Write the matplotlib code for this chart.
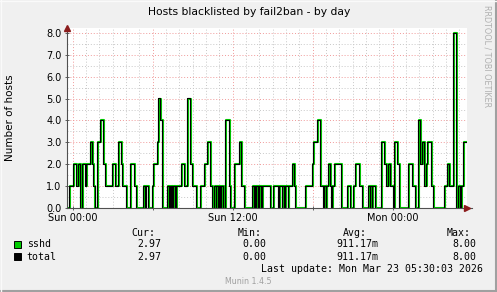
import numpy as np
import matplotlib
matplotlib.use("Agg")
import matplotlib.pyplot as plt
import matplotlib.transforms as mtransforms
from matplotlib.patches import Rectangle

# hours since Sun 00:00 where the value changes, and the value from there on
change_hours = [-0.45, -0.20, 0.10, 0.30, 0.45, 0.65, 0.75, 1.00, 1.10, 1.40,
                1.55, 1.60, 1.72, 1.90, 2.15, 2.35, 2.50, 3.05, 3.25, 3.45,
                3.70, 3.80, 4.05, 4.40, 4.65, 4.85, 5.35, 5.47, 5.53, 5.75,
                6.05, 6.10, 6.40, 6.50, 6.65, 6.75, 6.80, 7.15, 7.30, 7.35,
                7.40, 7.45, 7.55, 7.60, 7.75, 7.85, 8.20, 8.45, 8.65, 8.90,
                9.00, 9.30, 9.60, 9.90, 10.15, 10.35, 10.55, 10.65, 10.80, 10.85,
                11.00, 11.05, 11.15, 11.20, 11.33, 11.50, 11.80, 11.90, 12.15, 12.55,
                12.70, 12.95, 13.50, 13.70, 13.75, 13.80, 13.85, 14.00, 14.05, 14.20,
                14.25, 14.90, 15.10, 15.50, 15.55, 15.75, 15.80, 15.95, 16.00, 16.20,
                16.25, 16.50, 16.65, 16.75, 17.50, 18.00, 18.10, 18.40, 18.65, 18.85,
                18.90, 19.05, 19.10, 19.25, 19.40, 19.45, 19.50, 19.65, 20.20, 20.65,
                20.90, 21.10, 21.25, 21.55, 21.80, 22.20, 22.35, 22.40, 22.50, 22.55,
                22.75, 23.20, 23.45, 23.55, 23.70, 23.90, 24.10, 24.15, 24.40, 24.55,
                25.25, 25.55, 25.75, 25.95, 26.15, 26.25, 26.40, 26.60, 26.65, 26.95,
                27.10, 27.90, 28.15, 28.30, 28.60, 28.80, 28.95, 29.15, 29.20, 29.35]
sshd = [0, 1, 2, 1, 2, 0, 2, 1, 2, 3,
        2, 1, 0, 3, 4, 2, 1, 2, 1, 3,
        2, 1, 0, 2, 1, 0, 1, 0, 1, 0,
        1, 2, 3, 5, 4, 1, 0, 1, 0, 1,
        0, 1, 0, 1, 0, 1, 2, 1, 5, 2,
        1, 0, 1, 2, 3, 1, 0, 1, 0, 1,
        0, 1, 0, 1, 0, 4, 1, 0, 2, 3,
        1, 0, 1, 0, 1, 0, 1, 0, 1, 0,
        1, 0, 1, 0, 1, 0, 1, 0, 1, 0,
        1, 2, 1, 0, 1, 2, 3, 4, 1, 0,
        1, 0, 1, 2, 1, 0, 1, 2, 0, 1,
        0, 1, 2, 1, 0, 1, 0, 1, 0, 1,
        0, 3, 2, 1, 2, 1, 0, 3, 2, 0,
        2, 1, 0, 4, 2, 3, 1, 2, 3, 1,
        0, 1, 2, 1, 8, 0, 1, 0, 1, 3]
total = list(sshd)
end_hour = 29.55

tick_hours = [0, 12, 24]
tick_labels = ["Sun 00:00", "Sun 12:00", "Mon 00:00"]

legend_rows = [("sshd", "#00cc00", "2.97", "0.00", "911.17m", "8.00"),
               ("total", "#000000", "2.97", "0.00", "911.17m", "8.00")]
last_update = "Last update: Mon Mar 23 05:30:03 2026"

W, H = 497, 292
fig = plt.figure(figsize=(W / 100, H / 100), dpi=100, facecolor="#f0f0f0")


def fx(px):
    return px / W


def fy(py):
    return 1 - py / H


ax = fig.add_axes([fx(66.5), fy(208), 400 / W, 180 / H])
ax.set_facecolor("white")

xs = np.append(change_hours, end_hour)
ys_s = np.append(sshd, sshd[-1])
ys_t = np.append(total, total[-1])
ax.step(xs, ys_s, where="post", color="#00cc00", lw=1.5, zorder=3)
shift = mtransforms.offset_copy(ax.transData, fig=fig, x=-0.7, y=0.3, units="dots")
ax.step(xs, ys_t, where="post", color="black", lw=0.8, zorder=4, transform=shift)

ax.set_xlim(-0.45, 29.55)
ax.set_ylim(0, 180 / 21.875)

# grid: red dotted at major positions, grey dotted at minor
grid_red = "#f09a9a"
grid_grey = "#c8c8c8"
for h in range(0, 30):
    c = grid_red if h % 6 == 0 else grid_grey
    ax.axvline(h, color=c, lw=0.7, ls=(0, (1, 2)), zorder=1)
for v in np.arange(0.5, 8.01, 0.5):
    c = grid_red if v % 1 == 0 else grid_grey
    ax.axhline(v, color=c, lw=0.7, ls=(0, (1, 2)), zorder=1)

ax.set_yticks(np.arange(0, 8.01, 1))
ax.set_yticklabels([f"{v:.1f}" for v in np.arange(0, 8.01, 1)])
ax.set_xticks(tick_hours)
ax.set_xticklabels(tick_labels)
ax.set_xticks(np.arange(0, 30, 6), minor=True)
ax.tick_params(axis="both", which="both", length=3, width=0.7, color="#606060",
               labelsize=7, labelcolor="black", pad=2, direction="inout")

for side in ("top", "right"):
    ax.spines[side].set_visible(False)
for side in ("left", "bottom"):
    ax.spines[side].set_color("#505050")
    ax.spines[side].set_linewidth(0.8)
    ax.spines[side].set_zorder(5)

# axis arrows
ax.plot([1.0], [0], marker=">", ms=4, color="#8b1c1c", transform=ax.transAxes, clip_on=False, zorder=6)
ax.plot([1.0, 1.0125], [0, 0], color="#505050", lw=0.8, transform=ax.transAxes, clip_on=False)
ax.plot([0], [1.0], marker="^", ms=4, color="#8b1c1c", transform=ax.transAxes, clip_on=False, zorder=6)

fig.text(fx(10), fy(118), "Number of hosts", rotation=90, ha="center", va="center", fontsize=7.5)

fig.text(fx(249), fy(12), "Hosts blacklisted by fail2ban - by day", ha="center", va="center",
         fontsize=7.75)
fig.text(fx(487), fy(5), "RRDTOOL / TOBI OETIKER", rotation=270, ha="center", va="top",
         fontsize=5.8, color="#b0b0b0")

mono = dict(family="DejaVu Sans Mono", fontsize=7.1, va="center")
fig.text(fx(131.7), fy(233), "Cur:", **mono)
fig.text(fx(237.7), fy(233), "Min:", **mono)
fig.text(fx(343), fy(233), "Avg:", **mono)
fig.text(fx(447), fy(233), "Max:", **mono)
for i, (name, col, cur, mn, avg, mx) in enumerate(legend_rows):
    yy = 244.3 + i * 12.2
    fig.add_artist(Rectangle((fx(13.5), fy(yy + 3.5)), 7 / W, 7 / H, transform=fig.transFigure,
                             facecolor=col, edgecolor="black", lw=0.7))
    fig.text(fx(26.7), fy(yy), name, **mono)
    fig.text(fx(161), fy(yy), cur, ha="right", **mono)
    fig.text(fx(266.7), fy(yy), mn, ha="right", **mono)
    fig.text(fx(378.3), fy(yy), avg, ha="right", **mono)
    fig.text(fx(476.7), fy(yy), mx, ha="right", **mono)
fig.text(fx(483.3), fy(268.7), last_update, ha="right", **mono)
fig.text(fx(248), fy(281), "Munin 1.4.5", ha="center", va="center", fontsize=5.7, color="#a0a0a0")

# 3d frame around the image
fig.add_artist(plt.Line2D([0, 1], [fy(290.5), fy(290.5)], transform=fig.transFigure, color="#a0a0a0", lw=1.5))
fig.add_artist(plt.Line2D([fx(495.5), fx(495.5)], [0, 1], transform=fig.transFigure, color="#a0a0a0", lw=1.5))
fig.add_artist(plt.Line2D([0, 1], [fy(0.5), fy(0.5)], transform=fig.transFigure, color="#fafafa", lw=1.0))
fig.add_artist(plt.Line2D([fx(0.5), fx(0.5)], [0, 1], transform=fig.transFigure, color="#fafafa", lw=1.0))

fig.savefig("out.png", dpi=100, facecolor=fig.get_facecolor())
